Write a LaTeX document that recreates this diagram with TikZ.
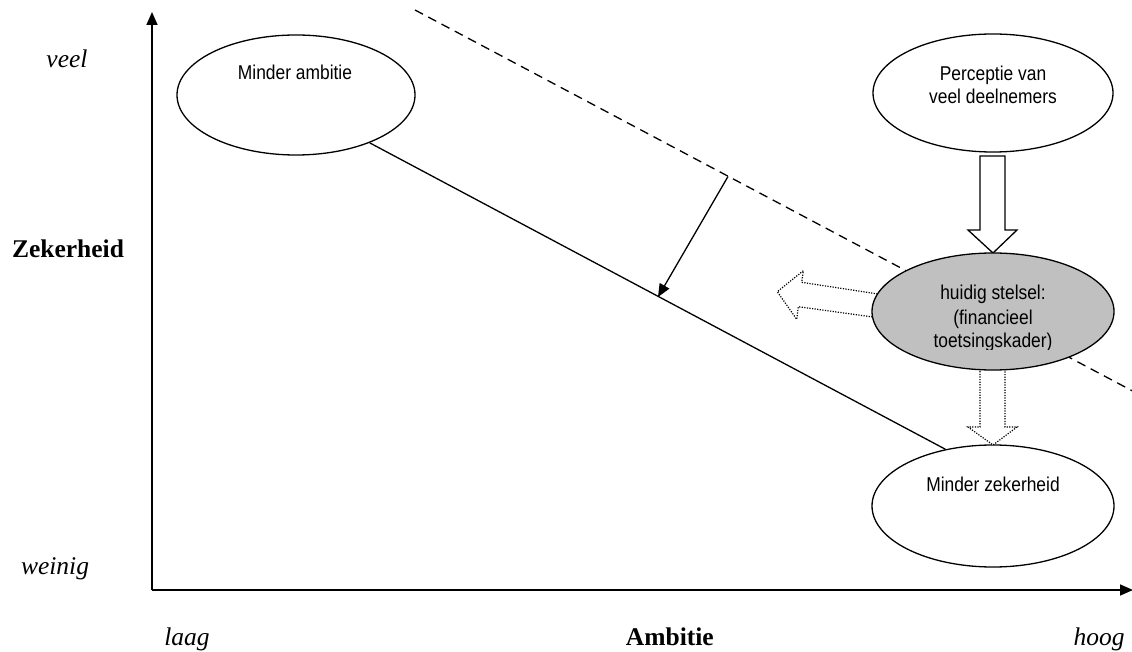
\documentclass[tikz,border=0pt]{standalone}
\usepackage{fontspec}
\newfontfamily\arialn[FakeStretch=0.87]{Liberation Sans}
\newfontfamily\labelserif{Liberation Serif}
\usetikzlibrary{shapes.geometric,arrows.meta,calc}
\definecolor{silverfill}{RGB}{192,192,192}
\begin{document}
\begin{tikzpicture}[x=1pt,y=-1pt,
  axisline/.style={line width=1.6pt,-{Triangle[length=13pt,width=11pt]}},
  oval/.style={ellipse,draw,line width=1.3pt,inner sep=0pt,fill=white},
  ovaltext/.style={font=\arialn\fontsize{20}{24}\selectfont,anchor=base,inner sep=0pt},
  serifit/.style={font=\labelserif\fontsize{25.5}{30}\selectfont\itshape,anchor=base,inner sep=0pt},
  serifbf/.style={font=\labelserif\fontsize{25.5}{30}\selectfont\bfseries,anchor=base,inner sep=0pt},
  blockarrow/.style={draw,line width=1.3pt,fill=white,line join=miter},
  dotarrow/.style={draw,line width=1.2pt,dash pattern=on 1.2pt off 1.4pt,fill=white},
  dashline/.style={line width=1.3pt,dash pattern=on 9pt off 6pt},
  thinarrow/.style={line width=1.3pt,-{Triangle[length=13pt,width=11pt]}}
]
\useasboundingbox (0,0) rectangle (1132,652);

% axes
\coordinate (origin) at (152,590);
\coordinate (ytip) at (152,12);
\coordinate (xtip) at (1133,590);
\draw[axisline] (origin) -- (ytip);
\draw[axisline] (origin) -- (xtip);

% axis labels
\node[serifit] (veel) at (67,68) {veel};
\node[serifbf] (zekerheidlbl) at (68,258) {Zekerheid};
\node[serifit] (weinig) at (55,574) {weinig};
\node[serifit] (laag) at (187,645) {laag};
\node[serifbf,anchor=base east] (ambitielbl) at (714,645) {Ambitie};
\node[serifit] (hoog) at (1099,645) {hoog};

% dashed boundary line and perpendicular arrow
\coordinate (d1) at (415,10);
\coordinate (d2) at (1132,390.7);
\draw[dashline] (d1) -- (d2);

% ellipses
\node[oval,minimum width=238pt,minimum height=120pt] (amb) at (296,95) {};
\node[oval,minimum width=240pt,minimum height=118pt] (perc) at (993,93) {};
\node[oval,minimum width=242pt,minimum height=122pt] (zek) at (993,506) {};

% solid line
\draw[line width=1.3pt] (amb.-33.5) -- (zek.130.6);

\coordinate (p1) at (728,176.5);
\coordinate (p2) at (658,297);
\draw[thinarrow] (p1) -- (p2);

% big white block arrow
\path[blockarrow] (980,156) -- (1005,156) -- (1005,230) -- (1017,230) -- (993,253)
  -- (968,230) -- (980,230) -- cycle;

% dotted block arrows
\path[dotarrow] (880,294.3) -- (801.7,282.3) -- (803.3,270.7) -- (777.3,291.7)
  -- (796.7,319.3) -- (798.3,306.7) -- (878,317.7) -- cycle;
\path[dotarrow] (980,360) -- (1005,360) -- (1005,427) -- (1017,427) -- (993,445)
  -- (968,427) -- (980,427) -- cycle;

% grey ellipse
\node[oval,fill=silverfill,minimum width=242pt,minimum height=117pt] (gray) at (993,311.5) {};

% texts in ellipses
\node[ovaltext] (ambtxt) at (295,80) {Minder ambitie};
\node[ovaltext] (perctxt1) at (993,81) {Perceptie van};
\node[ovaltext] (perctxt2) at (993,104) {veel deelnemers};
\node[ovaltext] (zektxt) at (993,491) {Minder zekerheid};
\begin{scope}
  \clip (850,260) rectangle (1130,349);
  \node[ovaltext] (graytxt1) at (993,299) {huidig stelsel:};
  \node[ovaltext] (graytxt2) at (993,324) {(financieel};
  \node[ovaltext] (graytxt3) at (993,347) {toetsingskader)};
\end{scope}
\end{tikzpicture}
\end{document}
